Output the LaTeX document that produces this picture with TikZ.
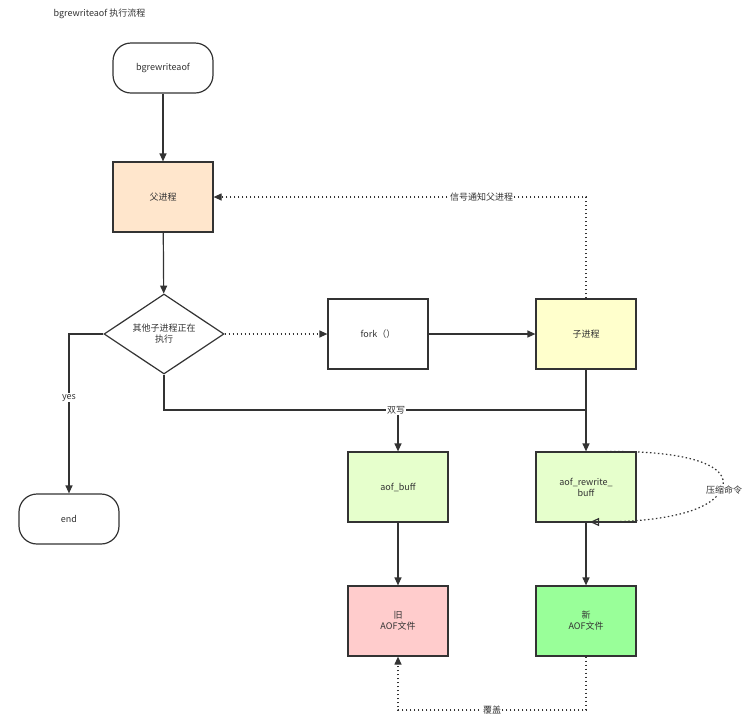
\documentclass[tikz,border=0pt]{standalone}
\usepackage{fontspec}
\setmainfont{Noto Sans CJK SC}
\usetikzlibrary{arrows.meta,shapes.geometric}
\definecolor{ln}{HTML}{333333}
\definecolor{cpar}{HTML}{FFE6CC}
\definecolor{cchild}{HTML}{FFFFCC}
\definecolor{cbuf}{HTML}{E6FFCC}
\definecolor{cold}{HTML}{FFCCCC}
\definecolor{cnew}{HTML}{99FF99}
\begin{document}
\begin{tikzpicture}[x=1pt,y=-1pt,
  every node/.style={font=\fontsize{9}{11}\selectfont,text=ln},
  box/.style={draw=ln,line width=1.2pt,minimum width=100pt,minimum height=70pt,inner sep=1pt,align=center},
  rbox/.style={box,minimum height=50pt,rounded corners=18pt},
  con/.style={draw=ln,line width=1.2pt},
  arr/.style={con,-{Triangle[length=8pt,width=7pt]}},
  dot/.style={con,dash pattern=on 1.5pt off 2.5pt},
  lbl/.style={fill=white,inner sep=1pt}]
\useasboundingbox (0,0) rectangle (754,724);
\node[anchor=west] (title) at (50,14) {bgrewriteaof 执行流程};
\node[rbox] (start) at (163,68) {bgrewriteaof};
\node[box,fill=cpar] (parent) at (163,197) {父进程};
\node[diamond,draw=ln,line width=1.2pt,minimum width=120pt,minimum height=80pt,aspect=1.5,inner sep=0pt,align=center] (dec) at (164,334) {其他子进程正在\\执行};
\node[box] (fork) at (378,334) {fork（）};
\node[box,fill=cchild] (child) at (586,334) {子进程};
\node[rbox] (end) at (69,519) {end};
\node[box,fill=cbuf] (aofb) at (398,487) {aof\_buff};
\node[box,fill=cbuf] (rwb) at (586,487) {aof\_rewrite\_\\buff};
\node[box,fill=cold] (old) at (398,621) {旧\\AOF文件};
\node[box,fill=cnew] (new) at (586,621) {新\\AOF文件};
\coordinate (j1) at (398,410);
\coordinate (j2) at (586,410);
\coordinate (yl) at (69,334);
\coordinate (s1) at (586,197);
\coordinate (b1) at (586,710);
\coordinate (b2) at (398,710);
\coordinate (l1) at (590,452);
\coordinate (l2) at (590,522);
\draw[arr] (start) -- (parent);
\draw[arr] (parent) -- (dec);
\draw[arr] (dec.west) -- (yl) -- node[lbl,pos=0.4]{yes} (end);
\draw[arr,dot] (dec) -- (fork);
\draw[arr] (fork) -- (child);
\draw[arr,dot] (child.north) -- (s1) -- node[lbl,pos=0.28]{信号通知父进程} (parent.east);
\draw[con] (dec.south) |- (j2);
\draw[arr] (j1) -- (aofb);
\draw[arr] (child) -- (rwb);
\node[lbl] (sx) at (396,410) {双写};
\draw[dot,-{Triangle[open,length=9pt,width=8pt]}] (l1) .. controls (700,448) and (735,470) .. (720,492) .. controls (705,515) and (650,522) .. (l2);
\node[lbl] (ys) at (724,490) {压缩命令};
\draw[arr] (aofb) -- (old);
\draw[arr] (rwb) -- (new);
\draw[arr,dot] (new.south) -- (b1) -- node[lbl,pos=0.5]{覆盖} (b2) -- (old.south);
\end{tikzpicture}
\end{document}
